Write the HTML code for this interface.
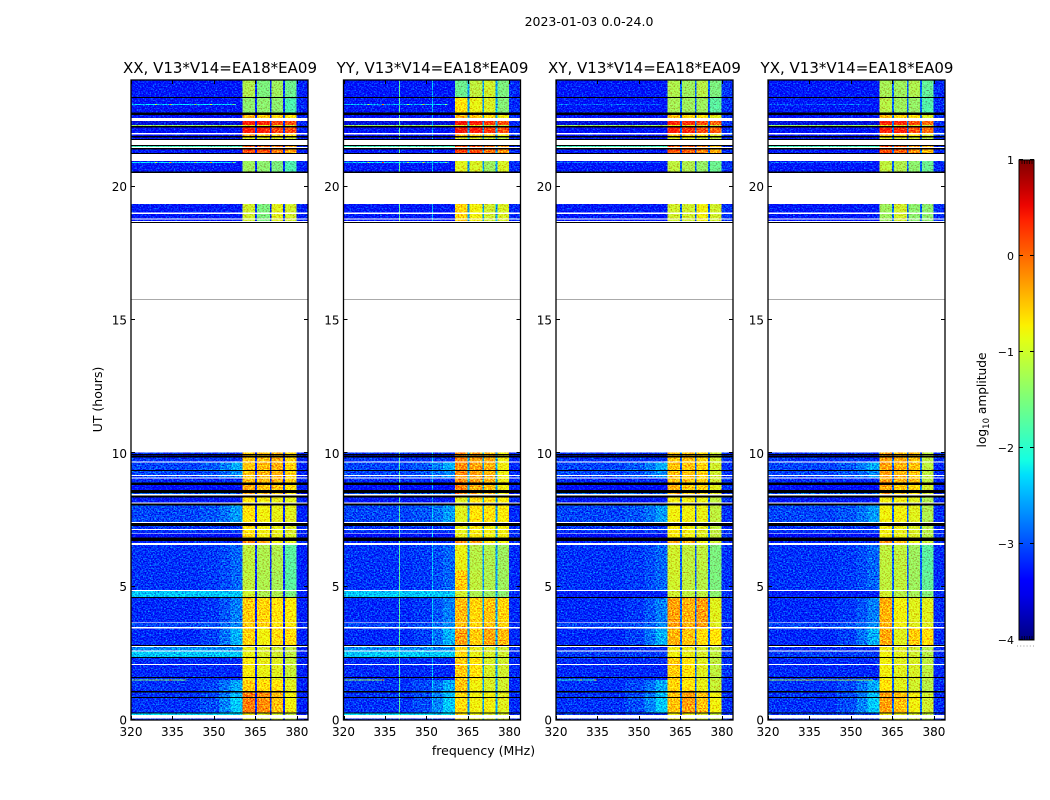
<!DOCTYPE html>
<html lang="en">
<head>
<meta charset="utf-8">
<title>2023-01-03 0.0-24.0</title>
<style>
html,body{margin:0;padding:0;background:#fff;}
svg{display:block;}
text{font-family:"DejaVu Sans","Liberation Sans",sans-serif;fill:#000;}
.tick{font-size:12px;}
.title{font-size:15px;text-anchor:middle;}
.lab{font-size:12.5px;text-anchor:middle;}
</style>
</head>
<body>
<svg id="chart" xmlns="http://www.w3.org/2000/svg" width="1050" height="800" viewBox="0 0 1050 800">
  <defs>
    <filter id="grain" x="0" y="0" width="100%" height="100%" color-interpolation-filters="sRGB">
      <feTurbulence type="fractalNoise" baseFrequency="0.62 0.72" numOctaves="2" seed="7" result="t"/>
      <feColorMatrix in="t" type="matrix" values="0.1 0 0 0 0.45  1 0 0 0 0  0.35 0 0 0 0.325  0 0 0 0 1" result="n"/>
      <feComposite in="SourceGraphic" in2="n" operator="arithmetic" k1="0" k2="1" k3="1.6" k4="-0.8" result="m"/>
      <feComposite in="m" in2="SourceAlpha" operator="in"/>
    </filter>
    <linearGradient id="jet-gradient" x1="0" y1="1" x2="0" y2="0"></linearGradient>
  </defs>
  <rect x="0" y="0" width="1050" height="800" fill="#fff"/>
  <text x="589" y="26" style="font-size:12.5px;text-anchor:middle">2023-01-03 0.0-24.0</text>
  <text class="title" x="220" y="73">XX, V13*V14=EA18*EA09</text>
  <text class="title" x="432.5" y="73">YY, V13*V14=EA18*EA09</text>
  <text class="title" x="644.5" y="73">XY, V13*V14=EA18*EA09</text>
  <text class="title" x="857" y="73">YX, V13*V14=EA18*EA09</text>
  <text class="lab" transform="translate(102 399.5) rotate(-90)">UT (hours)</text>
  <text class="lab" x="483.5" y="755">frequency (MHz)</text>
  <text class="lab" style="font-size:12.2px" transform="translate(986 400) rotate(-90)">log<tspan font-size="8.5" dy="3">10</tspan><tspan dy="-3"> amplitude</tspan></text>
  <g id="panels"></g>
  <g id="colorbar"></g>
</svg>
<script>
// Axis tick values
const freqTicks = [320, 335, 350, 365, 380];
const utTicks = [0, 5, 10, 15, 20];
const colorbarTicks = [1, 0, -1, -2, -3, -4];
const panelIds = ['xx', 'yy', 'xy', 'yx'];

// Frequency cell edges in MHz
const freqEdges = [320, 345, 352, 356, 360.4, 364.8, 365.6, 370.2, 370.8, 375, 375.6, 379.8, 384];

// Data rows in UT hours, top to bottom; values in log10 amplitude
const rowStart = [24,23.33,22.69,22.46,22.31,22.22,21.96,21.84,21.55,21.40,20.97,19.35,18.98,18.76,10.04,9.95,9.84,9.65,9.34,9.15,9.05,8.81,8.52,8.35,8.05,7.28,7.13,6.99,6.72,6.56,5.6,4.84,4.59,3.63,3.44,2.74,2.56,2.33,2.06,1.58,1.50,1.04,0.83,0.25,0.06];
const rowEnd = [23.36,22.78,22.58,22.31,22.28,22.01,21.90,21.79,21.49,21.27,20.56,19.04,18.80,18.71,9.98,9.91,9.69,9.38,9.19,9.09,8.91,8.63,8.48,8.15,7.43,7.17,7.02,6.84,6.64,5.6,4.88,4.62,3.66,3.48,2.81,2.60,2.36,2.10,1.61,1.50,1.08,0.86,0.29,0.19,0];
const rowBgParallel = [-3.3,-3.3,-3.5,-3.6,-1.3,-3.35,-3.35,-3.3,-1.9,-3.3,-3.3,-3.3,-3.3,-3.35,-3.15,-3.5,-3.15,-3.05,-3.05,-3.05,-3.2,-3.4,-2.9,-3.3,-3.05,-3.15,-3.15,-3.4,-3.2,-3.15,-3.15,-2.4,-3.2,-3.05,-3.2,-2.7,-2.4,-3.2,-3.2,-3.2,-3.15,-3.15,-3.15,-2.3,-3.15];
const rowBgCross = [-3.3,-3.3,-3.5,-3.6,-1.3,-3.35,-3.35,-3.3,-1.9,-3.3,-3.3,-3.3,-3.3,-3.35,-3.15,-3.5,-3.15,-3.05,-3.05,-3.05,-3.2,-3.4,-2.9,-3.3,-3.05,-3.15,-3.15,-3.4,-3.2,-3.15,-3.15,-3.25,-3.2,-3.05,-3.2,-3.2,-3.1,-3.2,-3.2,-3.2,-3.15,-3.15,-3.15,-3.1,-3.15];
const rowEdgeLift = [0,0,0,0,0,0,0,0,0,0,0,0,0,0,0,0,0,0.6,0.4,0.4,0,0,0,0,0.5,0,0,0,0,0.3,0.3,0,0.5,0.4,0.8,0,0,0,0,0,0.7,0.8,0.9,0,0];
const rowZone = [0,1,2,3,4,3,2,4,5,5,6,7,7,7,8,8,8,8,8,8,8,9,9,10,10,11,11,11,12,13,21,14,15,15,16,17,17,18,18,18,20,19,19,17,17];
const edgeProfile = [0, 0.15, 0.45, 0.85];

// Band levels per zone: [band1, band2, band3, band4]
const bandsXX = [[-1.2,-1.5,-1.3,-1.6],[-1.4,-1.4,-1.4,-1.8],[-0.4,-0.6,-0.6,-0.7],[0.45,0.4,0.2,0.15],[-0.9,-0.9,-0.9,-1],[0.15,0.1,-0.1,-0.3],[-1.3,-1.4,-1.5,-1.8],[-1,-1.5,-0.9,-1],[-0.5,-0.45,-0.4,-0.6],[-0.35,-0.5,-0.5,-0.7],[-0.7,-0.8,-0.85,-0.9],[-0.7,-0.8,-0.85,-0.95],[-0.2,-0.3,-0.8,-0.9],[-1.1,-1.2,-1.2,-1.7],[-1,-1.2,-1.2,-1.5],[-0.55,-0.6,-0.7,-0.75],[-0.6,-0.8,-0.65,-0.65],[-0.85,-0.95,-1,-1.1],[-0.75,-0.85,-0.9,-1.05],[-0.1,-0.2,-0.5,-0.8],[-0.55,-0.65,-0.7,-0.9],[-1.1,-1.2,-1.25,-1.7]];
const bandsYY = [[-1.6,-1.1,-1,-1.5],[-0.7,-0.85,-0.95,-1.45],[-0.4,-0.5,-0.6,-0.8],[0.5,0.45,0.25,0.15],[-0.9,-0.9,-1,-1.1],[0.2,0.15,-0.05,-0.2],[-0.9,-0.95,-1.3,-0.95],[-0.6,-0.8,-1,-0.95],[-0.2,-0.3,-0.4,-0.8],[-0.15,-0.4,-0.5,-0.8],[-0.9,-0.7,-0.7,-0.75],[-0.85,-0.75,-0.8,-0.8],[-0.2,-0.35,-0.7,-0.8],[-0.85,-1.15,-1.2,-1.3],[-1,-1.2,-1.3,-1.4],[-0.45,-0.6,-0.5,-0.6],[-0.3,-0.55,-0.35,-0.45],[-0.65,-0.85,-0.95,-1],[-0.55,-0.7,-0.95,-1],[-0.65,-0.8,-0.8,-0.9],[-0.5,-0.8,-0.95,-1],[-0.55,-1.1,-1.2,-1.3]];
const bandsXY = [[-1.2,-1.3,-1.15,-1.5],[-1.25,-1.3,-1.3,-1.7],[-0.5,-0.6,-0.7,-0.9],[0.4,0.35,0.15,0.05],[-0.9,-0.9,-1,-1.1],[0.1,0.05,-0.15,-0.4],[-1.1,-1.2,-1.35,-1.6],[-1,-1,-0.8,-1],[-0.5,-0.5,-0.6,-1],[-0.4,-0.55,-0.6,-0.9],[-0.8,-0.8,-0.85,-1.1],[-0.75,-0.8,-0.9,-1.1],[-0.3,-0.4,-0.8,-1],[-1,-1.1,-1.1,-1.5],[-1,-1.1,-1.1,-1.4],[-0.3,-0.4,-0.3,-0.9],[-0.4,-0.5,-0.65,-0.7],[-0.8,-0.85,-0.95,-1.1],[-0.55,-0.7,-0.9,-1.1],[-0.5,-0.3,-0.5,-0.8],[-0.6,-0.7,-0.85,-1.05],[-1,-1.1,-1.15,-1.5]];
const bandsYX = [[-1.25,-1.3,-1.2,-1.65],[-1.15,-1.3,-1.35,-1.75],[-0.45,-0.55,-0.7,-0.95],[0.4,0.35,0.15,-0.05],[-0.9,-0.95,-1,-1.15],[0.15,0.05,-0.2,-0.45],[-1.1,-1.2,-1.4,-1.6],[-1.3,-1,-1.4,-1.4],[-0.3,-0.4,-0.5,-1.1],[-0.35,-0.55,-0.65,-1],[-0.8,-0.8,-0.9,-1.2],[-0.8,-0.85,-0.95,-1.15],[-0.25,-0.45,-0.85,-1.05],[-1.1,-1.1,-1.3,-1.7],[-1,-1.15,-1.25,-1.45],[-0.4,-0.8,-0.9,-0.9],[-0.35,-0.9,-0.55,-0.65],[-0.8,-0.9,-1,-1.15],[-0.8,-0.9,-0.95,-1.1],[-0.3,-0.5,-0.8,-1],[-0.7,-0.9,-1,-1.15],[-1.1,-1.1,-1.3,-1.65]];
const gapLevels = [-3.2, -2.6, -2.9, -2.9];
const postBandLevels = [-3.25, -3.2, -3.15, -3.2];

// Flagged rows drawn black, UT hours
const blackStart = [23.36,22.78,22.28,21.90,21.79,21.57,21.45,21.27,20.56,18.68,9.98,9.91,9.38,8.91,8.63,8.41,8.11,7.39,6.84,4.62,2.81,2.36,1.61,1.08,0.86,0.29];
const blackEnd = [23.33,22.69,22.22,21.84,21.75,21.55,21.40,21.24,20.52,18.65,9.95,9.84,9.34,8.81,8.52,8.35,8.05,7.28,6.72,4.59,2.78,2.33,1.58,1.04,0.83,0.25];

// Isolated narrow-band and time-localised interference
const sparseUT = [15.79];
const rfiRowsUT = [23.1, 20.93, 1.52];
const rfiLevelsXX = [-2.3, -2.3, -1.5];
const rfiLevelsYY = [-2.5, -2.3, -1.4];
const rfiLevelsXY = [-2.9, -2.9, -2.0];
const rfiLevelsYX = [-2.9, -2.9, -1.3];
const rfiEndXX = [358, 358, 340];
const rfiEndYY = [358, 358, 334];
const rfiEndXY = [358, 358, 334];
const rfiEndYX = [358, 358, 358];
const rfiSpotFreqs = [328.7, 334, 343, 348.5, 356.7];
const rfiSpotLevels = [-1.1, -0.2, -1.3, -0.9, -1.4];
const rfiChannelsYY = [340, 352];
const rfiChannelLevelsYY = [-1.7, -2.4];

const PANEL_LEFT = [131, 343.5, 556, 768];
const PANEL_WIDTH = 177;
const PLOT_TOP = 80;
const PLOT_BOTTOM = 720;
const FREQ_MIN = 320, FREQ_MAX = 384, UT_MIN = 0, UT_MAX = 24;
const CB_LEFT = 1019, CB_WIDTH = 15, CB_TOP = 160, CB_BOTTOM = 640, CB_MIN = -4, CB_MAX = 1;
const SVGNS = 'http://www.w3.org/2000/svg';

const bandTables = [bandsXX, bandsYY, bandsXY, bandsYX];
const rfiTables = [rfiLevelsXX, rfiLevelsYY, rfiLevelsXY, rfiLevelsYX];
const rfiEndTables = [rfiEndXX, rfiEndYY, rfiEndXY, rfiEndYX];
const rfiChannelTables = [[], rfiChannelsYY, [], []];
const rfiChannelLevelTables = [[], rfiChannelLevelsYY, [], []];

function xScale(panel, f) { return PANEL_LEFT[panel] + (f - FREQ_MIN) / (FREQ_MAX - FREQ_MIN) * PANEL_WIDTH; }
function yScale(h) { return PLOT_BOTTOM - (h - UT_MIN) / (UT_MAX - UT_MIN) * (PLOT_BOTTOM - PLOT_TOP); }
function cbScale(v) { return CB_BOTTOM - (v - CB_MIN) / (CB_MAX - CB_MIN) * (CB_BOTTOM - CB_TOP); }

function interp(stops, t) {
  for (let i = 1; i < stops.length; i++) {
    if (t <= stops[i][0]) {
      const a = stops[i - 1], b = stops[i];
      return a[1] + (b[1] - a[1]) * (t - a[0]) / (b[0] - a[0]);
    }
  }
  return stops[stops.length - 1][1];
}
const jetR = [[0,0],[0.35,0],[0.66,1],[0.89,1],[1,0.5]];
const jetG = [[0,0],[0.125,0],[0.375,1],[0.64,1],[0.91,0],[1,0]];
const jetB = [[0,0.5],[0.11,1],[0.34,1],[0.65,0],[1,0]];
function jet(t) {
  t = Math.max(0, Math.min(1, t));
  return 'rgb(' + Math.round(interp(jetR, t) * 255) + ',' + Math.round(interp(jetG, t) * 255) + ',' + Math.round(interp(jetB, t) * 255) + ')';
}
function colorOf(v) { return jet((v - CB_MIN) / (CB_MAX - CB_MIN)); }

function el(tag, parent, attrs) {
  const n = document.createElementNS(SVGNS, tag);
  for (const k in attrs) n.setAttribute(k, attrs[k]);
  parent.appendChild(n);
  return n;
}

const panelsRoot = document.getElementById('panels');

panelIds.forEach(function (id, p) {
  const g = el('g', panelsRoot, {});
  
  

  const heat = el('g', g, { filter: 'url(#grain)', 'shape-rendering': 'crispEdges' });
  
  
  const bands = bandTables[p];

  rowStart.forEach(function (top, r) {
    const bg = (p < 2 ? rowBgParallel : rowBgCross)[r];
    const b = bands[rowZone[r]];
    const lift = rowEdgeLift[r];
    const levels = [
      bg + lift * edgeProfile[0], bg + lift * edgeProfile[1], bg + lift * edgeProfile[2], bg + lift * edgeProfile[3],
      b[0], gapLevels[p], b[1], gapLevels[p], b[2], gapLevels[p], b[3], postBandLevels[p]
    ];
    const y0 = yScale(top), y1 = yScale(rowEnd[r]);
    levels.forEach(function (v, c) {
      const x0 = xScale(p, freqEdges[c]), x1 = xScale(p, freqEdges[c + 1]);
      const cell = el('rect', heat, { x: x0, y: y0, width: x1 - x0, height: Math.max(y1 - y0, 0.6), fill: colorOf(v) });
      
      
    });
    rfiChannelTables[p].forEach(function (f, k) {
      const chan = el('rect', heat, { x: xScale(p, f), y: y0, width: 1, height: Math.max(y1 - y0, 0.6), fill: colorOf(rfiChannelLevelTables[p][k]) });
      
      
    });
  });

  rfiRowsUT.forEach(function (h, i) {
    const line = el('rect', heat, { x: xScale(p, FREQ_MIN) + 1, y: yScale(h), width: xScale(p, rfiEndTables[p][i]) - xScale(p, FREQ_MIN) - 1, height: 1, fill: colorOf(rfiTables[p][i]) });
    
    
    if (rfiTables[p][i] < -2.6) return;
    rfiSpotFreqs.forEach(function (f, k) {
      if (f > rfiEndTables[p][i]) return;
      const spot = el('rect', heat, { x: xScale(p, f), y: yScale(h), width: 2, height: 1, fill: colorOf(rfiSpotLevels[k]) });
      
      
    });
  });

  const flags = el('g', g, { 'shape-rendering': 'crispEdges' });
  
  
  blackStart.forEach(function (top, i) {
    const row = el('rect', flags, { x: xScale(p, FREQ_MIN), y: yScale(top), width: PANEL_WIDTH, height: Math.max(yScale(blackEnd[i]) - yScale(top), 1), fill: '#000' });
    
    
  });
  sparseUT.forEach(function (h) {
    const line = el('rect', flags, { x: xScale(p, FREQ_MIN), y: yScale(h), width: PANEL_WIDTH, height: 1, fill: '#aaa' });
    
    
  });

  const frame = el('rect', g, { x: PANEL_LEFT[p], y: PLOT_TOP, width: PANEL_WIDTH, height: PLOT_BOTTOM - PLOT_TOP, fill: 'none', stroke: '#000', 'stroke-width': 1.3 });
  
  

  freqTicks.forEach(function (f) {
    const x = Math.round(xScale(p, f)) + 0.5;
    const bottomTick = el('line', g, { x1: x, x2: x, y1: PLOT_BOTTOM, y2: PLOT_BOTTOM - 4, stroke: '#000', 'stroke-width': 1 });
    
    
    const topTick = el('line', g, { x1: x, x2: x, y1: PLOT_TOP, y2: PLOT_TOP + 4, stroke: '#000', 'stroke-width': 1 });
    
    
    const label = el('text', g, { class: 'tick', x: xScale(p, f), y: 736, 'text-anchor': 'middle' });
    
    
    label.textContent = f;
  });

  utTicks.forEach(function (h) {
    const y = Math.round(yScale(h)) - 0.5;
    const x0 = PANEL_LEFT[p], x1 = PANEL_LEFT[p] + PANEL_WIDTH;
    const leftTick = el('line', g, { x1: x0, x2: x0 + 4, y1: y, y2: y, stroke: '#000', 'stroke-width': 1 });
    
    
    const rightTick = el('line', g, { x1: x1, x2: x1 - 4, y1: y, y2: y, stroke: '#000', 'stroke-width': 1 });
    
    
    const label = el('text', g, { class: 'tick', x: x0 - 4, y: yScale(h) + 4.5, 'text-anchor': 'end' });
    
    
    label.textContent = h;
  });
});

// Colorbar gradient follows the same jet map
const gradient = document.getElementById('jet-gradient');
for (let i = 0; i <= 32; i++) {
  el('stop', gradient, { offset: (i / 32), 'stop-color': jet(i / 32) });
}
const cbRoot = document.getElementById('colorbar');
const cbFill = el('rect', cbRoot, { x: CB_LEFT, y: CB_TOP, width: CB_WIDTH, height: CB_BOTTOM - CB_TOP, fill: 'url(#jet-gradient)', stroke: '#000', 'stroke-width': 1 });


colorbarTicks.forEach(function (v) {
  const y = Math.round(cbScale(v)) - 0.5;
  const l = el('line', cbRoot, { x1: CB_LEFT, x2: CB_LEFT + 4, y1: y, y2: y, stroke: '#000', 'stroke-width': 1 });
  
  
  const r = el('line', cbRoot, { x1: CB_LEFT + CB_WIDTH, x2: CB_LEFT + CB_WIDTH - 4, y1: y, y2: y, stroke: '#000', 'stroke-width': 1 });
  
  
  const label = el('text', cbRoot, { x: CB_LEFT - 5, y: cbScale(v) + 4, 'text-anchor': 'end', style: 'font-size:11px' });
  
  
  label.textContent = String(v).replace('-', '\u2212');
});
[1, 2, 3, 4, 5].forEach(function (k) {
  const x = CB_LEFT + k * CB_WIDTH / 6 + 0.5;
  const topMinor = el('line', cbRoot, { x1: x, x2: x, y1: CB_TOP, y2: CB_TOP + 4, stroke: '#000', 'stroke-width': 0.7 });
  
  
  const botMinor = el('line', cbRoot, { x1: x, x2: x, y1: CB_BOTTOM, y2: CB_BOTTOM - 4, stroke: '#000', 'stroke-width': 0.7 });
  
  
});
const dots = el('line', cbRoot, { x1: 1017, x2: 1035, y1: 646, y2: 646, stroke: '#999', 'stroke-width': 1, 'stroke-dasharray': '1 2.2' });


</script>
</body>
</html>
